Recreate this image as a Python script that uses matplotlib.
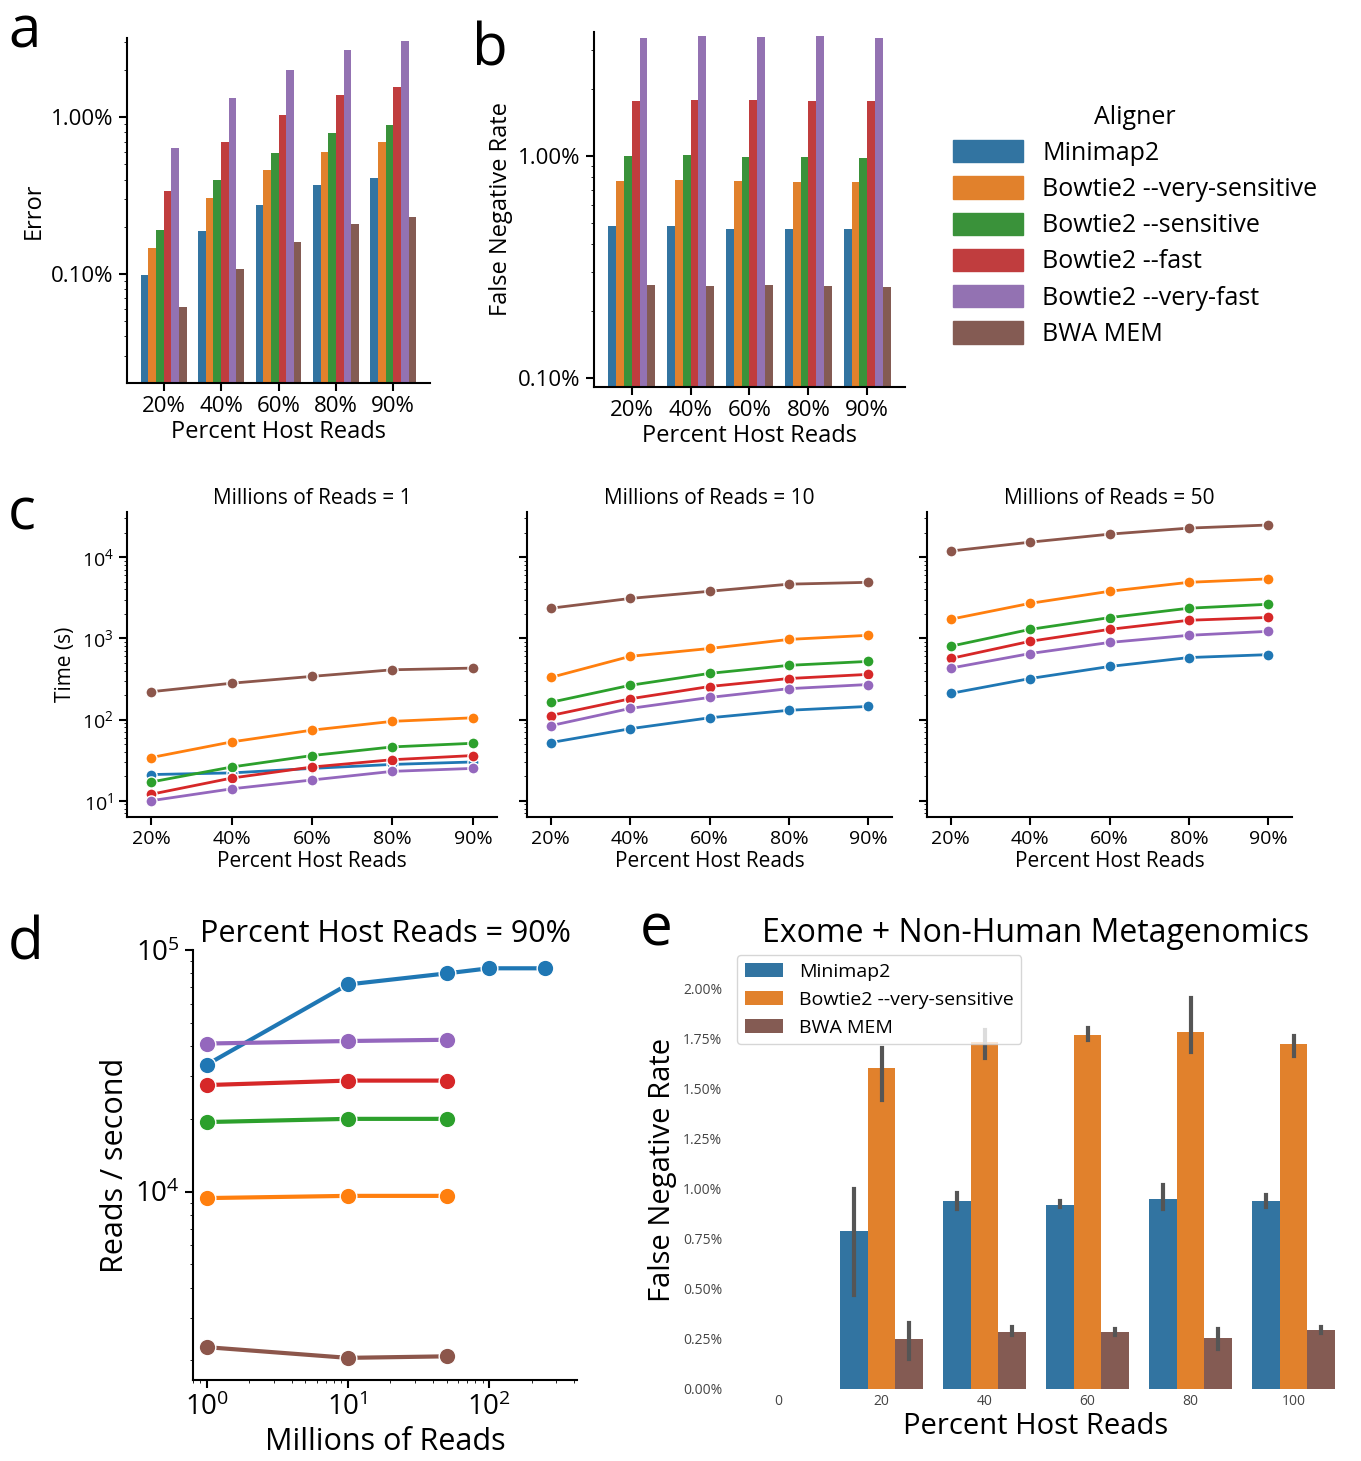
import matplotlib
matplotlib.use("Agg")
import matplotlib.pyplot as plt
import numpy as np
import colorsys
from matplotlib.colors import to_rgb
from matplotlib.ticker import FuncFormatter, LogLocator, NullFormatter

plt.rcParams['font.family'] = ['Open Sans', 'DejaVu Sans']

aligners = ["Minimap2", "Bowtie2 --very-sensitive", "Bowtie2 --sensitive",
            "Bowtie2 --fast", "Bowtie2 --very-fast", "BWA MEM"]
colors = ["#1f77b4", "#ff7f0e", "#2ca02c", "#d62728", "#9467bd", "#8c564b"]
host = ["20%", "40%", "60%", "80%", "90%"]

# panel a: error (%)
err = [
    [0.099, 0.188, 0.275, 0.37, 0.41],
    [0.146, 0.305, 0.46, 0.60, 0.69],
    [0.19, 0.397, 0.59, 0.79, 0.89],
    [0.337, 0.69, 1.04, 1.38, 1.57],
    [0.635, 1.32, 2.0, 2.7, 3.05],
    [0.062, 0.107, 0.16, 0.21, 0.23],
]
# panel b: false negative rate (%)
fnr = [
    [0.48, 0.48, 0.47, 0.47, 0.47],
    [0.77, 0.78, 0.77, 0.76, 0.76],
    [1.00, 1.01, 0.99, 0.99, 0.98],
    [1.77, 1.78, 1.78, 1.77, 1.76],
    [3.37, 3.45, 3.42, 3.45, 3.40],
    [0.262, 0.258, 0.263, 0.258, 0.257],
]
# panel c: time (s)
millions = [1, 10, 50]
time_s = {
    1: [[21, 22, 25, 28, 30], [34, 53, 74, 95, 105], [17, 26, 36, 46, 51],
        [12, 19, 26, 32, 36], [10, 14, 18, 23, 25], [220, 280, 340, 410, 430]],
    10: [[52, 77, 105, 130, 145], [330, 600, 750, 970, 1090], [163, 264, 370, 465, 520],
         [112, 180, 255, 320, 360], [84, 137, 187, 240, 270], [2350, 3100, 3800, 4650, 4900]],
    50: [[210, 320, 450, 580, 630], [1720, 2700, 3800, 4900, 5400], [800, 1290, 1800, 2350, 2630],
         [565, 920, 1290, 1670, 1810], [430, 650, 890, 1090, 1220], [11900, 15300, 19200, 22800, 24900]],
}
# panel d: reads / second at 90% host reads
d_x = [[1, 10, 50, 100, 250], [1, 10, 50], [1, 10, 50], [1, 10, 50], [1, 10, 50], [1, 10, 50]]
d_y = [[33500, 72000, 80000, 84000, 84000], [9400, 9600, 9600], [19400, 20000, 20000],
       [27600, 28800, 28800], [41000, 42000, 42500], [2270, 2050, 2080]]
d_order = [0, 4, 3, 2, 1, 5]
# panel e: exome FNR (%)
e_cats = ["0", "20", "40", "60", "80", "100"]
e_names = ["Minimap2", "Bowtie2 --very-sensitive", "BWA MEM"]
e_cols = ["#1f77b4", "#ff7f0e", "#8c564b"]
e_val = [[0, 0.79, 0.94, 0.92, 0.95, 0.94],
         [0, 1.60, 1.73, 1.765, 1.78, 1.72],
         [0, 0.25, 0.285, 0.285, 0.255, 0.295]]
e_lo = [[0, 0.47, 0.90, 0.91, 0.90, 0.91],
        [0, 1.44, 1.65, 1.74, 1.68, 1.66],
        [0, 0.15, 0.27, 0.27, 0.20, 0.28]]
e_hi = [[0, 1.00, 0.98, 0.94, 1.02, 0.97],
        [0, 1.70, 1.79, 1.80, 1.95, 1.76],
        [0, 0.33, 0.31, 0.30, 0.30, 0.31]]


def desat(c, s=0.75):
    h, l, sat = colorsys.rgb_to_hls(*to_rgb(c))
    return colorsys.hls_to_rgb(h, l, sat * s)


W, H = 1361, 1461
fig = plt.figure(figsize=(W / 100, H / 100), dpi=100)


def ax_px(x0, y0, x1, y1):
    return fig.add_axes([x0 / W, 1 - y1 / H, (x1 - x0) / W, (y1 - y0) / H])


def style(ax):
    ax.spines['top'].set_visible(False)
    ax.spines['right'].set_visible(False)
    for s in ['left', 'bottom']:
        ax.spines[s].set_linewidth(1.5)


pct = FuncFormatter(lambda v, p: f"{v:.2f}%")


def bars(ax, data, ylim):
    x = np.arange(len(host))
    w = 0.8 / 6
    for i, vals in enumerate(data):
        ax.bar(x - 0.4 + w * (i + 0.5), vals, w, color=desat(colors[i]), log=True)
    ax.set_yscale('log')
    ax.set_ylim(*ylim)
    ax.set_xticks(x, host)
    ax.yaxis.set_major_locator(LogLocator(base=10, numticks=10))
    ax.yaxis.set_major_formatter(pct)
    ax.yaxis.set_minor_formatter(NullFormatter())
    ax.set_xlabel("Percent Host Reads", fontsize=17, labelpad=2)
    ax.tick_params(labelsize=16, width=1.5, length=6)
    style(ax)


ax_a = ax_px(127, 38, 430, 383)
bars(ax_a, err, (0.0202, 3.2))
ax_a.set_ylabel("Error", fontsize=17)
ax_b = ax_px(594, 32, 905, 387)
bars(ax_b, fnr, (0.091, 3.6))
ax_b.set_ylabel("False Negative Rate", fontsize=17)

handles = [plt.Rectangle((0, 0), 1, 1, color=desat(c)) for c in colors]
fig.legend(handles, aligners, title="Aligner", loc='upper left',
           bbox_to_anchor=(930 / W, 1 - 82 / H), frameon=False, fontsize=18,
           title_fontsize=18, handlelength=2.8, handleheight=1.0, labelspacing=0.42)

# panel c
cx = [(127, 497), (527, 892), (927, 1292)]
for k, m in enumerate(millions):
    ax = ax_px(cx[k][0], 512, cx[k][1], 817)
    xs = np.arange(len(host))
    for i in range(6):
        ax.plot(xs, time_s[m][i], '-o', color=colors[i], lw=2, ms=8,
                markeredgecolor='white', markeredgewidth=1)
    ax.set_yscale('log')
    ax.set_ylim(6.3, 36000)
    ax.set_xlim(-0.3, 4.3)
    ax.set_xticks(xs, host)
    ax.set_title(f"Millions of Reads = {m}", fontsize=15)
    ax.set_xlabel("Percent Host Reads", fontsize=15, labelpad=2)
    ax.tick_params(labelsize=14, width=1.5, length=6)
    if k == 0:
        ax.set_ylabel("Time (s)", fontsize=15)
    else:
        ax.yaxis.set_major_formatter(NullFormatter())
    ax.yaxis.set_minor_formatter(NullFormatter())
    style(ax)

# panel d
ax_d = ax_px(193, 950, 577, 1380)
for i in d_order:
    ax_d.plot(d_x[i], d_y[i], '-o', color=colors[i], lw=3, ms=12,
              markeredgecolor='white', markeredgewidth=1)
ax_d.set_xscale('log')
ax_d.set_yscale('log')
ax_d.set_xlim(0.8, 420)
ax_d.set_ylim(1660, 100000)
ax_d.set_title("Percent Host Reads = 90%", fontsize=22)
ax_d.set_xlabel("Millions of Reads", fontsize=22)
ax_d.set_ylabel("Reads / second", fontsize=22)
ax_d.tick_params(labelsize=20, width=1.5, length=6)
ax_d.yaxis.set_minor_formatter(NullFormatter())
style(ax_d)

# panel e
ax_e = ax_px(727, 950, 1345, 1389)
xe = np.arange(len(e_cats))
we = 0.8 / 3
for i in range(3):
    pos = xe - 0.4 + we * (i + 0.5)
    vals = np.array(e_val[i])
    ax_e.bar(pos[1:], vals[1:], we, color=desat(e_cols[i]), label=e_names[i])
    for p, lo, hi in zip(pos[1:], e_lo[i][1:], e_hi[i][1:]):
        ax_e.plot([p, p], [lo, hi], color='#555555', lw=3)
ax_e.set_xlim(-0.5, 5.5)
ax_e.set_ylim(0, 2.19)
ax_e.set_yticks(np.arange(0, 2.01, 0.25))
ax_e.yaxis.set_major_formatter(pct)
ax_e.set_xticks(xe, e_cats)
ax_e.tick_params(labelsize=10, length=0, labelcolor='#444444')
for s in ax_e.spines.values():
    s.set_visible(False)
ax_e.set_title("Exome + Non-Human Metagenomics", fontsize=23)
ax_e.set_xlabel("Percent Host Reads", fontsize=21, labelpad=2)
ax_e.set_ylabel("False Negative Rate", fontsize=21)
ax_e.legend(loc='upper left', fontsize=14, bbox_to_anchor=(0.0, 1.01))

for letter, x, y in [("a", 8, 48), ("b", 472, 65), ("c", 8, 530), ("d", 8, 960), ("e", 640, 945)]:
    fig.text(x / W, 1 - y / H, letter, fontsize=42)

fig.savefig("out.png", dpi=100)
